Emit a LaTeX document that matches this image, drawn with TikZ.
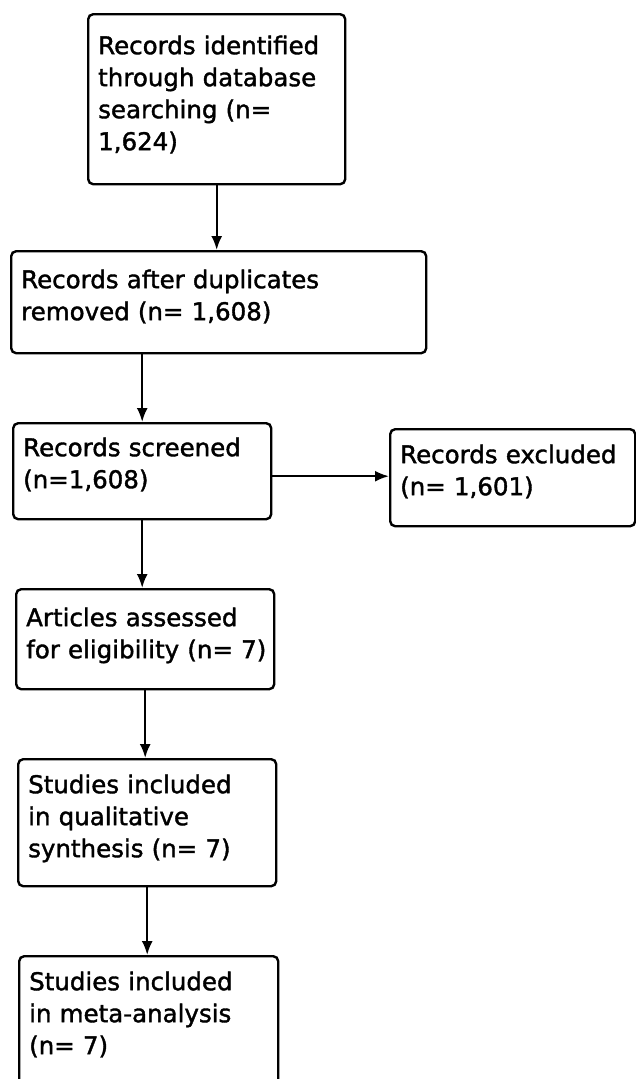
\documentclass[tikz,border=0pt]{standalone}
\usepackage{fontspec}
\setmainfont{DejaVu Sans}[BoldFont=DejaVu Sans, BoldFeatures={FakeBold=1.5}]
\usetikzlibrary{arrows.meta}

\begin{document}
\begin{tikzpicture}[x=1pt, y=-1pt,
    stage/.style={draw, line width=2.4pt, rounded corners=5pt, anchor=north west,
      inner xsep=10pt, inner ysep=0pt, align=left,
      font=\fontsize{24.5}{32}\selectfont\bfseries},
    flow/.style={line width=2.2pt, -{Latex[length=14pt,width=11pt]}}]
  \useasboundingbox (0,0) rectangle (636,1079);
  \node[stage, text width=237pt, text height=40pt, text depth=130pt] (ident) at (87,13)
    {Records identified\\ through database\\ searching (n=\\ 1,624)};
  \node[stage, text width=395pt, text height=37pt, text depth=65pt] (dup) at (10,250)
    {Records after duplicates\\ removed (n=~1,608)};
  \node[stage, text width=238pt, text height=33pt, text depth=63pt] (screen) at (12,422)
    {Records screened\\ (n=1,608)};
  \node[stage, text width=225pt, text height=34pt, text depth=63pt] (excl) at (389,428)
    {Records excluded\\ (n=~1,601)};
  \node[stage, text width=238pt, text height=37pt, text depth=63pt] (assess) at (15,588)
    {Articles assessed\\ \mbox{for eligibility (n= 7)}};
  \node[stage, text width=238pt, text height=34pt, text depth=93pt] (qual) at (17,758)
    {Studies included\\ in qualitative\\ synthesis (n=~7)};
  \node[stage, text width=239pt, text height=34pt, text depth=130pt] (meta) at (18,955)
    {Studies included\\ in meta-analysis\\ (n=~7)};

  \draw[flow] (ident.south) -- (ident.south |- dup.north);
  \draw[flow] (dup.south -| screen.north) -- (screen.north);
  \draw[flow] ([yshift=-5pt]screen.east) -- ([yshift=-5pt]screen.east -| excl.west);
  \draw[flow] (screen.south) -- (screen.south |- assess.north);
  \draw[flow] (assess.south) -- (assess.south |- qual.north);
  \draw[flow] (qual.south) -- (qual.south |- meta.north);
\end{tikzpicture}
\end{document}
